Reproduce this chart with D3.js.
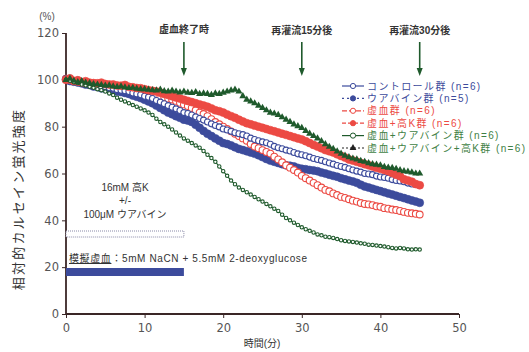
<!DOCTYPE html>
<html><head><meta charset="utf-8">
<script src="https://cdn.jsdelivr.net/npm/d3@7"></script>
<style>
body{margin:0;background:#fff;}
text{font-family:"Liberation Sans","Noto Sans CJK JP",sans-serif;}
</style></head>
<body><svg id="c" width="529" height="352"></svg>
<script>
// ---- data ----
const times = d3.range(0, 45.01, 0.5);
const control = [100.5,100.8,99.6,99.9,99.0,98.6,98.2,97.9,97.4,97.2,97.0,96.6,96.4,95.8,95.5,95.3,95.0,94.4,94.0,93.6,93.0,92.6,92.0,91.2,90.5,89.8,89.0,88.3,87.6,86.9,86.0,85.6,85.0,84.2,83.5,82.8,82.0,81.2,80.5,79.9,79.0,78.6,78.0,77.4,77.0,76.6,76.0,75.1,74.5,74.0,73.5,73.1,72.5,71.6,71.0,70.6,70.0,69.6,69.0,68.4,68.0,67.6,67.0,66.4,66.0,65.6,65.0,64.5,64.0,63.4,63.0,62.6,62.0,61.5,61.0,60.6,60.0,59.8,59.5,58.9,58.5,58.3,58.0,57.4,57.0,56.8,56.5,55.9,55.5,55.3,55.0];
const ouabain = [100.2,99.5,99.2,98.9,98.5,98.0,97.8,97.2,97.0,96.4,96.2,95.9,95.5,95.0,94.8,94.4,94.0,93.3,92.8,92.2,91.5,90.8,90.0,89.0,88.0,87.0,86.0,85.3,84.5,83.8,83.0,82.6,82.0,80.8,79.5,78.2,77.0,76.0,75.0,74.0,73.0,72.6,72.0,71.2,70.5,70.0,69.5,69.0,68.5,67.8,67.0,66.2,65.5,65.0,64.5,64.0,63.5,63.3,63.0,62.4,62.0,61.8,61.5,61.3,61.0,60.4,60.0,59.5,59.0,58.6,58.0,57.5,57.0,56.6,56.0,55.2,54.5,54.0,53.5,53.0,52.5,52.0,51.5,51.0,50.5,50.0,49.5,49.0,48.5,48.0,47.5];
const ischemia = [100.5,100.0,99.6,99.2,99.0,98.6,98.5,98.0,97.8,97.4,97.5,97.0,96.8,96.5,96.4,96.0,95.8,95.6,95.4,95.0,95.0,94.5,94.0,93.6,93.0,92.6,92.0,91.6,91.0,90.2,89.5,88.8,88.0,87.0,86.0,85.4,84.5,83.2,82.0,81.0,80.0,79.0,78.0,77.0,76.0,75.0,74.0,72.6,71.5,70.8,70.0,69.2,68.5,67.2,66.0,64.8,63.5,62.5,61.5,60.4,59.0,58.0,57.0,56.0,55.0,54.0,53.0,52.4,51.5,50.8,50.0,49.6,49.0,48.4,48.0,47.4,47.0,46.8,46.5,46.0,45.8,45.2,45.0,44.6,44.4,44.0,43.6,43.2,43.0,42.8,42.5];
const ischemiaK = [100.0,100.6,99.5,99.8,99.0,99.4,98.8,98.6,98.5,98.8,98.2,98.0,98.0,97.6,97.5,97.8,97.0,96.8,96.5,96.4,96.0,95.6,95.3,95.0,94.5,94.0,93.5,93.0,92.5,92.0,91.5,91.0,90.5,90.0,89.5,89.0,88.5,87.8,87.0,86.6,86.0,85.2,84.5,83.8,83.0,82.2,81.5,81.0,80.5,80.0,79.5,79.0,78.5,78.0,77.5,77.0,76.5,76.0,75.5,75.0,74.5,73.8,73.0,72.2,71.5,70.8,70.0,69.5,69.0,68.2,67.5,66.8,66.0,65.5,65.0,64.5,64.0,63.5,63.0,62.5,62.0,61.5,61.0,60.2,59.5,58.8,57.5,57.0,56.5,55.5,55.0];
const ischemiaOua = [100.0,99.6,99.0,98.6,98.0,97.6,97.0,96.6,96.0,95.6,95.0,94.2,93.5,92.4,91.5,90.8,90.0,89.2,88.5,87.8,87.0,86.0,85.0,83.4,82.0,81.0,80.0,78.8,77.5,76.2,75.0,74.0,73.0,72.0,71.0,69.6,68.0,66.6,65.0,63.0,61.0,59.0,57.0,55.4,54.0,53.0,52.0,51.0,50.0,49.0,48.0,47.0,46.0,45.0,44.0,42.4,41.0,40.0,39.0,38.0,37.0,36.2,35.5,34.8,34.0,33.6,33.0,32.8,32.5,32.0,31.5,31.2,31.0,30.8,30.5,30.2,30.0,29.6,29.5,29.2,29.0,28.8,28.5,28.2,28.0,28.2,28.0,27.6,27.5,27.6,27.5];
const ischemiaOuaK = [100.0,100.5,99.6,99.0,99.5,98.8,98.6,98.2,98.0,97.8,97.5,97.6,97.2,97.0,97.2,96.8,96.5,96.6,96.2,96.0,96.0,95.8,95.6,95.5,95.8,95.2,95.0,95.4,95.0,94.6,95.0,94.5,94.4,94.8,94.0,94.2,94.0,93.6,94.2,94.0,94.5,95.0,95.5,95.8,95.0,93.0,91.5,90.8,90.0,89.0,88.0,87.0,86.0,85.6,85.0,84.0,83.0,82.0,81.0,80.2,79.5,78.2,77.0,76.0,75.0,73.8,72.5,71.4,70.5,69.4,68.5,67.6,67.0,66.4,66.0,65.4,65.0,64.4,64.0,63.8,63.5,62.8,62.5,62.4,62.0,61.4,61.0,60.8,60.5,60.0,60.0];
const seriesNames = ["コントロール群 (n=6)","ウアバイン群 (n=5)","虚血群 (n=6)","虚血+高K群 (n=6)","虚血+ウアバイン群 (n=6)","虚血+ウアバイン+高K群 (n=6)"];
const xTicks = [0,10,20,30,40,50];
const yTicks = [0,20,40,60,80,100,120];
const arrowTimes = [15,30,45];
const arrowLabels = ["虚血終了時","再灌流15分後","再灌流30分後"];

// ---- chart ----
const svg = d3.select("#c");
const x = d3.scaleLinear().domain([0,50]).range([66,459]);
const y = d3.scaleLinear().domain([0,120]).range([314,33]);
const BLUE="#3c4b9c", RED="#ec4a43", GREEN="#3f7f45", DKGREEN="#1f5a2c";

const series = [
  {v:ouabain, color:BLUE, fill:BLUE, type:"circle", r:4.0, dash:"1.5,2.5", lw:1},
  {v:ischemia, color:RED, fill:"#fff", type:"circle", r:3.4, dash:"4,2", lw:1},
  {v:control, color:BLUE, fill:"#fff", type:"circle", r:3.0, dash:null, lw:1},
  {v:ischemiaK, color:RED, fill:RED, type:"circle", r:4.0, dash:"4,2", lw:1},
  {v:ischemiaOua, color:DKGREEN, fill:"#fff", type:"circle", r:1.7, dash:null, lw:1.1},
  {v:ischemiaOuaK, color:"#222", fill:DKGREEN, type:"tri", r:3.2, dash:"1.5,2", lw:1}
];

// axes
const gy = svg.append("g").attr("transform","translate(66,0)")
  .call(d3.axisLeft(y).tickValues(yTicks).tickSize(4).tickPadding(3));
const gx = svg.append("g").attr("transform","translate(0,314)")
  .call(d3.axisBottom(x).tickValues(xTicks).tickSize(4).tickPadding(6));
[gx,gy].forEach(g=>{
  g.select(".domain").attr("stroke","#3a2626").attr("stroke-width",1.8);
  g.selectAll(".tick line").attr("stroke","#3a2626");
  g.selectAll(".tick text").attr("fill","#555").style("font-size","11.5px").style("font-family","'DejaVu Sans',sans-serif");
});
gy.select(".domain").attr("d","M0,33V314");
gx.select(".domain").attr("d","M66,0H459");

svg.append("text").attr("x",47).attr("y",20).attr("text-anchor","middle").attr("fill","#555").style("font-size","10px").text("(%)");
svg.append("text").attr("x",262).attr("y",347).attr("text-anchor","middle").attr("fill","#333").style("font-size","10px").text("時間(分)");
svg.append("text").attr("transform","translate(23,199) rotate(-90)").attr("text-anchor","middle").attr("fill","#333").style("font-size","13px").style("letter-spacing","2.2px").text("相対的カルセイン蛍光強度");

// protocol annotation
svg.append("text").attr("x",125).attr("y",191).attr("text-anchor","middle").attr("fill","#333").style("font-size","10px").text("16mM 高K");
svg.append("text").attr("x",125).attr("y",204).attr("text-anchor","middle").attr("fill","#333").style("font-size","10px").text("+/-");
svg.append("text").attr("x",125).attr("y",218).attr("text-anchor","middle").attr("fill","#333").style("font-size","10px").text("100μM ウアバイン");
svg.append("rect").attr("x",x(0)).attr("y",231).attr("width",x(15)-x(0)).attr("height",6)
  .attr("fill","#fff").attr("stroke","#8a8aa8").attr("stroke-width",1).attr("stroke-dasharray","1,1");
const t2 = svg.append("text").attr("x",69).attr("y",262).attr("fill","#333").style("font-size","10px").style("letter-spacing","0.6px");
t2.append("tspan").attr("text-decoration","underline").text("模擬虚血");
t2.append("tspan").text("：5mM NaCN + 5.5mM 2-deoxyglucose");
svg.append("rect").attr("x",x(0)).attr("y",268).attr("width",x(15)-x(0)).attr("height",8).attr("fill",BLUE);

// series
const line = d3.line().x((d,i)=>x(times[i])).y(d=>y(d));
const tri = d3.symbol().type(d3.symbolTriangle);
series.forEach(s=>{
  svg.append("path").datum(s.v).attr("d",line).attr("fill","none")
    .attr("stroke",s.color).attr("stroke-width",s.lw).attr("stroke-dasharray",s.dash);
  const g = svg.append("g");
  if(s.type==="circle"){
    g.selectAll("circle").data(s.v).join("circle")
      .attr("cx",(d,i)=>x(times[i])).attr("cy",d=>y(d)).attr("r",s.r)
      .attr("fill",s.fill).attr("stroke",s.color).attr("stroke-width",s.fill==="#fff"?1.1:0.6);
  } else {
    g.selectAll("path").data(s.v).join("path")
      .attr("transform",(d,i)=>`translate(${x(times[i])},${y(d)})`)
      .attr("d",tri.size(22)()).attr("fill",s.fill);
  }
});

// arrows
arrowTimes.forEach((t,i)=>{
  const cx = x(t);
  svg.append("text").attr("x",cx).attr("y",i===0?33:34).attr("text-anchor","middle").attr("fill","#333")
    .style("font-size","10px").style("font-weight","bold").text(arrowLabels[i]);
  svg.append("line").attr("x1",cx).attr("x2",cx).attr("y1",42).attr("y2",70).attr("stroke",DKGREEN).attr("stroke-width",1.6);
  svg.append("path").attr("d",`M${cx-3},${68}L${cx+3},${68}L${cx},${76}Z`).attr("fill",DKGREEN);
});

// legend
const legendColors = [BLUE,BLUE,RED,RED,GREEN,GREEN];
const legendDefs = [
  {c:BLUE, f:"#fff", dash:null, type:"circle"},
  {c:BLUE, f:BLUE, dash:"2,3", type:"circle"},
  {c:RED, f:"#fff", dash:"5,2", type:"circle"},
  {c:RED, f:RED, dash:"4,2", type:"circle"},
  {c:DKGREEN, f:"#fff", dash:null, type:"circle"},
  {c:"#222", f:"#222", dash:"2,2", type:"tri"}
];
seriesNames.forEach((n,i)=>{
  const yy = 86 + i*12.4;
  const d = legendDefs[i];
  svg.append("line").attr("x1",342).attr("x2",364).attr("y1",yy).attr("y2",yy)
    .attr("stroke",d.c).attr("stroke-width",1.2).attr("stroke-dasharray",d.dash);
  if(d.type==="circle") svg.append("circle").attr("cx",353).attr("cy",yy).attr("r",2.6).attr("fill",d.f).attr("stroke",d.c).attr("stroke-width",1);
  else svg.append("path").attr("transform",`translate(353,${yy})`).attr("d",tri.size(20)()).attr("fill",d.f);
  svg.append("text").attr("x",367).attr("y",yy+3.6).attr("fill",legendColors[i]).style("font-size","10px").style("letter-spacing","1.4px").text(n);
});
</script></body></html>
